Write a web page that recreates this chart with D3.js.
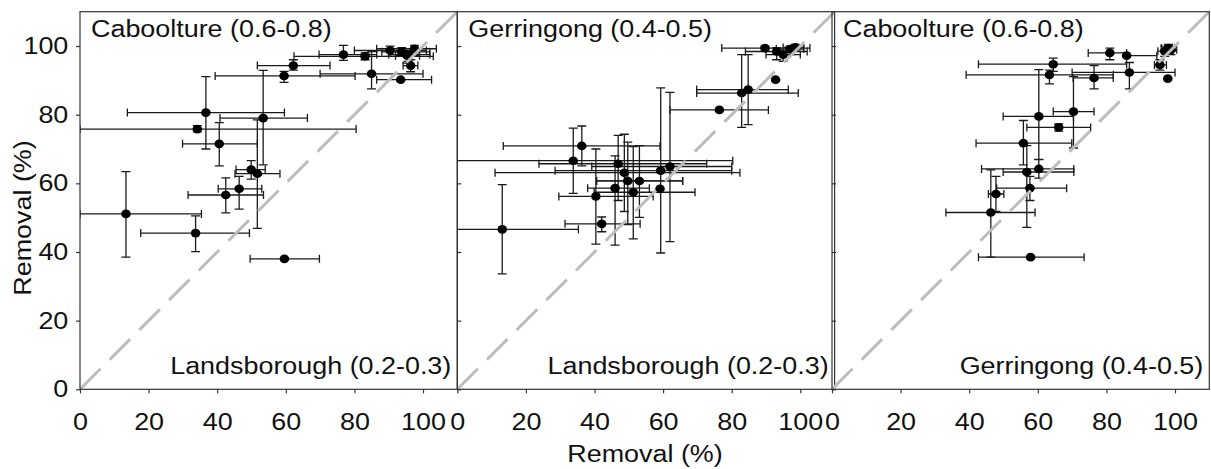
<!DOCTYPE html>
<html>
<head>
<meta charset="utf-8">
<script src="https://cdn.jsdelivr.net/npm/d3@7"></script>
<style>
  body { margin: 0; background: #fff; }
  text { font-family: "Liberation Sans", Arial, sans-serif; fill: #111; }
</style>
</head>
<body>
<div id="chart"></div>
<script>
// panel titles
var topLabels = ["Caboolture (0.6-0.8)", "Gerringong (0.4-0.5)", "Caboolture (0.6-0.8)"];
var bottomLabels = ["Landsborough (0.2-0.3)", "Landsborough (0.2-0.3)", "Gerringong (0.4-0.5)"];
var ticks = [0, 20, 40, 60, 80, 100];

// each point: [x, y, xLow, xHigh, yLow, yHigh]  (removal %)
var panel1 = [
  [97.5, 99.2, 86.5, 103.9, 98, 100.2],
  [93.8, 98.3, 88, 102, 97, 99.5],
  [90.4, 98.7, 80, 101, 97, 100],
  [95.7, 97.5, 90, 102, 95.5, 98.5],
  [83.1, 97.0, 62.4, 103, 96, 98],
  [76.8, 97.5, 69.7, 86.5, 95.8, 100.2],
  [62.2, 94.3, 51.7, 72.9, 93, 96],
  [59.5, 91.3, 39.4, 80.2, 89.4, 92.6],
  [85.0, 91.9, 70, 100, 87.5, 98.4],
  [93.5, 90.2, 86.5, 102.5, 90.2, 90.2],
  [96.4, 94.3, 94.2, 98.5, 92.5, 96],
  [95.4, 97.2, 92, 99, 95, 98],
  [36.7, 80.6, 13.8, 59.6, 70.0, 91.1],
  [53.4, 79.0, 40.8, 66.3, 65.4, 92.9],
  [34.2, 75.8, 0, 80.5, 75, 76.8],
  [40.6, 71.5, 29.9, 51.7, 65.1, 77.7],
  [49.9, 64.0, 45.5, 54, 61.2, 66.6],
  [51.7, 62.8, 45.2, 58.3, 46.9, 78.5],
  [46.4, 58.4, 40.3, 53.0, 52.5, 62.0],
  [42.5, 56.6, 31.5, 53.5, 51.4, 61.6],
  [13.4, 51.1, 0, 35.4, 38.5, 63.4],
  [33.7, 45.5, 17.7, 49.4, 40.1, 50.5],
  [59.6, 38.0, 49.6, 69.8, 38, 38]
];
var panel2 = [
  [98.5, 99.6, 95, 101, 98.5, 100.5],
  [97.0, 99.1, 93, 101, 97.5, 100],
  [93.1, 98.4, 84, 102, 96, 99.5],
  [89.7, 99.4, 77.1, 102.8, 98.5, 100],
  [95.0, 97.5, 90, 100, 95.5, 98.5],
  [92.8, 90.2, 92.8, 92.8, 90.2, 90.2],
  [84.8, 87.3, 69.8, 96.5, 77.1, 97.5],
  [82.9, 86.3, 69.8, 99.4, 76.3, 97.5],
  [76.4, 81.4, 62.0, 90.7, 81.4, 81.4],
  [36.3, 70.9, 13.4, 59.1, 65.1, 76.7],
  [33.8, 66.6, 0, 80.3, 57.1, 76.1],
  [46.9, 65.7, 23.8, 72.7, 55, 74],
  [48.7, 63.1, 11, 82.4, 51.8, 74.3],
  [49.7, 60.7, 40.6, 65.7, 48, 72],
  [53.1, 60.7, 40.6, 65.7, 50.1, 71.0],
  [59.3, 63.7, 28.5, 80, 39.7, 87.8],
  [62.0, 64.9, 39.2, 80.0, 43.0, 86.5],
  [46.0, 58.6, 38, 56, 42, 68],
  [51.3, 57.4, 39.9, 69.3, 43.8, 70.7],
  [40.4, 56.2, 29.6, 57.1, 42.3, 70],
  [42.1, 48.2, 31.4, 53.3, 45.9, 50.2],
  [13.1, 46.6, 0, 35.3, 33.6, 59.6],
  [59.1, 58.4, 59.1, 59.1, 58.4, 58.4]
];
var panel3 = [
  [98.1, 99.4, 96, 100, 98, 100.5],
  [97.0, 98.5, 95, 99.5, 97, 100],
  [98.8, 98.9, 97, 100.5, 97.5, 100],
  [95.6, 94.5, 94, 97.5, 93, 96],
  [97.9, 90.5, 97.9, 97.9, 90.5, 90.5],
  [81.0, 98.0, 74.7, 85.9, 96.0, 99.4],
  [85.9, 97.2, 85.9, 94.7, 97.2, 97.2],
  [64.5, 94.7, 42.7, 85.9, 92.6, 96.5],
  [63.4, 91.6, 39.1, 82.0, 89, 93],
  [86.7, 92.3, 70, 100, 87.5, 95.2],
  [76.4, 90.7, 70.3, 82.0, 87.5, 94.3],
  [70.4, 80.9, 64.5, 76.4, 70.3, 91.1],
  [60.3, 79.5, 49.9, 70.4, 66.9, 93.1],
  [66.1, 76.3, 56.8, 75.4, 75.2, 77.3],
  [55.8, 71.7, 42.0, 69.9, 65.4, 78.3],
  [60.3, 64.2, 43.6, 70.5, 61.5, 67],
  [56.8, 63.3, 49.9, 70.5, 47.2, 71],
  [57.7, 58.6, 48, 68.4, 55, 62],
  [47.8, 56.9, 45.6, 50.1, 51.8, 62],
  [46.3, 51.5, 33.2, 59.2, 38.5, 63.9],
  [57.9, 38.5, 42.7, 73.5, 38.5, 38.5]
];
var panels = [panel1, panel2, panel3];

var W = 1211, H = 469;
var lefts = [80, 457.3, 832];
var pw = 377.3, plotTop = 11.7, plotBottom = 389.3;
var stretch = "scale(1.17,1)";

var svg = d3.select("#chart").append("svg")
    .attr("width", W)
    .attr("height", H);

var y = d3.scaleLinear().domain([0, 110]).range([plotBottom, plotTop]);

panels.forEach(function (data, i) {
    var x = d3.scaleLinear().domain([0, 110]).range([lefts[i], lefts[i] + pw]);
    var g = svg.append("g");

    // x axis
    var xa = g.append("g")
        .attr("transform", "translate(0," + plotBottom + ")")
        .call(d3.axisBottom(x).tickValues(ticks).tickSize(4).tickPadding(20));
    xa.select(".domain").remove();
    xa.selectAll("line").attr("stroke", "#333").attr("stroke-width", 1.2);
    xa.selectAll("text").attr("font-size", 23).attr("fill", "#111").attr("transform", stretch);

    // y axis: labels only on the first panel, ticks inward on the others
    var ya;
    if (i == 0) {
        ya = g.append("g")
            .attr("transform", "translate(" + lefts[i] + ",0)")
            .call(d3.axisLeft(y).tickValues(ticks).tickSize(4).tickPadding(6));
        ya.selectAll("text").attr("font-size", 23).attr("fill", "#111").attr("transform", stretch);
    } else {
        ya = g.append("g")
            .attr("transform", "translate(" + lefts[i] + ",0)")
            .call(d3.axisRight(y).tickValues(ticks).tickSize(4).tickFormat(""));
    }
    ya.select(".domain").remove();
    ya.selectAll("line").attr("stroke", "#333").attr("stroke-width", 1.2);

    // clip for marks
    var cid = "clip" + i;
    svg.append("clipPath").attr("id", cid)
        .append("rect")
        .attr("x", x(0)).attr("y", y(110))
        .attr("width", x(110) - x(0)).attr("height", y(0) - y(110));
    var m = g.append("g").attr("clip-path", "url(#" + cid + ")");

    // error bars
    var eb = m.append("g").attr("stroke", "#1a1a1a").attr("stroke-width", 1.3);
    data.forEach(function (d) {
        if (d[3] > d[2]) {
            eb.append("line").attr("x1", x(d[2])).attr("x2", x(d[3])).attr("y1", y(d[1])).attr("y2", y(d[1]));
            eb.append("line").attr("x1", x(d[2])).attr("x2", x(d[2])).attr("y1", y(d[1]) - 4).attr("y2", y(d[1]) + 4);
            eb.append("line").attr("x1", x(d[3])).attr("x2", x(d[3])).attr("y1", y(d[1]) - 4).attr("y2", y(d[1]) + 4);
        }
        if (d[5] > d[4]) {
            eb.append("line").attr("x1", x(d[0])).attr("x2", x(d[0])).attr("y1", y(d[4])).attr("y2", y(d[5]));
            eb.append("line").attr("x1", x(d[0]) - 4.5).attr("x2", x(d[0]) + 4.5).attr("y1", y(d[4])).attr("y2", y(d[4]));
            eb.append("line").attr("x1", x(d[0]) - 4.5).attr("x2", x(d[0]) + 4.5).attr("y1", y(d[5])).attr("y2", y(d[5]));
        }
    });

    // dots
    m.append("g")
        .selectAll("ellipse")
        .data(data)
        .enter()
        .append("ellipse")
        .attr("cx", function (d) { return x(d[0]); })
        .attr("cy", function (d) { return y(d[1]); })
        .attr("rx", 4.8)
        .attr("ry", 4.3)
        .style("fill", "#000");

    // 1:1 line
    m.append("line")
        .attr("x1", x(0)).attr("y1", y(0))
        .attr("x2", x(110)).attr("y2", y(110))
        .attr("stroke", "#bdbdbd")
        .attr("stroke-width", 3)
        .attr("stroke-dasharray", "29,13");

    // frame
    g.append("rect")
        .attr("x", x(0)).attr("y", y(110))
        .attr("width", x(110) - x(0)).attr("height", y(0) - y(110))
        .attr("fill", "none")
        .attr("stroke", "#333")
        .attr("stroke-width", 1.2);

    // panel labels
    g.append("text")
        .attr("transform", "translate(" + (x(0) + 11) + ",37) " + stretch)
        .attr("font-size", 23)
        .text(topLabels[i]);
    g.append("text")
        .attr("transform", "translate(" + (x(110) - 6) + ",374) " + stretch)
        .attr("text-anchor", "end")
        .attr("font-size", 23)
        .text(bottomLabels[i]);
});

// axis titles
svg.append("text")
    .attr("transform", "translate(645,462) " + stretch)
    .attr("text-anchor", "middle")
    .attr("font-size", 23)
    .text("Removal (%)");
svg.append("text")
    .attr("transform", "translate(31,218) rotate(-90) scale(1.17,1)")
    .attr("text-anchor", "middle")
    .attr("font-size", 23)
    .text("Removal (%)");
</script>
</body>
</html>
